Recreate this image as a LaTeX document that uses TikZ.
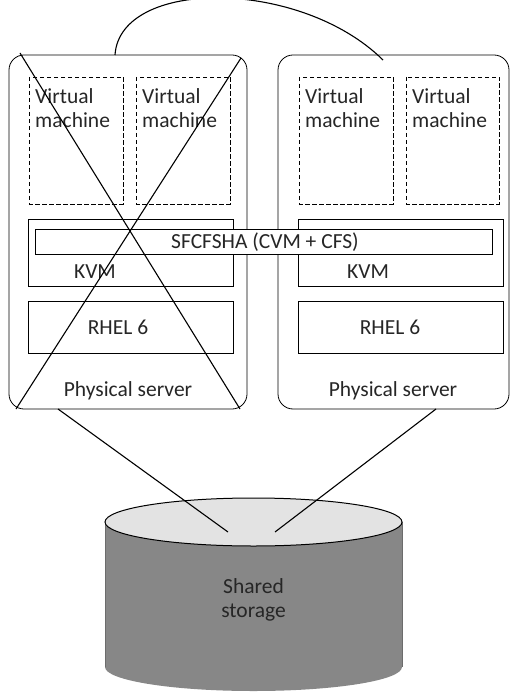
\documentclass[tikz,border=0pt]{standalone}
\usepackage{fontspec}
\setmainfont{Carlito}
\definecolor{txt}{HTML}{262626}
\definecolor{cylbody}{HTML}{878787}
\definecolor{cyltop}{HTML}{E3E3E3}
\begin{document}
\begin{tikzpicture}[x=1pt,y=-1pt,
  every node/.style={font=\fontsize{21.5}{24}\selectfont,text=txt,inner sep=0pt},
  server/.style={draw,rounded corners=15pt,line width=0.8pt},
  vmbox/.style={draw,dash pattern=on 4.5pt off 2.5pt,line width=0.6pt},
  layer/.style={draw,line width=0.7pt},
  wire/.style={draw,line width=1.1pt}]
\useasboundingbox (0,0) rectangle (511,692);
% servers
\draw[server] (9,55) rectangle (247,409);
\draw[server] (278,55) rectangle (509,409);
% VMs
\draw[vmbox] (29,77) rectangle (123,204);
\draw[vmbox] (136,77) rectangle (230,204);
\draw[vmbox] (299,77) rectangle (393,204);
\draw[vmbox] (406,77) rectangle (499,204);
\foreach \x/\n in {35/a,142/b,305/c,412/d}{
  \node[anchor=north west,align=left] (vm\n) at (\x,88) {Virtual\\machine};
}
% KVM boxes
\draw[layer,fill=white] (28,219) rectangle (233,286);
\draw[layer,fill=white] (298,219) rectangle (503,286);
\node (kvma) at (95,272) {KVM};
\node (kvmb) at (368,272) {KVM};
% SFCFSHA bar
\draw[layer,fill=white] (35,229) rectangle (492,254);
\node (sf) at (265,242) {SFCFSHA (CVM + CFS)};
% RHEL
\draw[layer] (28,301) rectangle (233,353);
\draw[layer] (298,301) rectangle (503,353);
\node (rhela) at (118,327) {RHEL 6};
\node (rhelb) at (390,327) {RHEL 6};
% physical server labels
\node (psa) at (128,391) {Physical server};
\node (psb) at (393,391) {Physical server};
% cross
\draw[wire] (20,53) -- (240,409);
\draw[wire] (241,58) -- (16,409);
% heartbeat curve
\coordinate (ca) at (115,55);
\coordinate (cb) at (383,60);
\draw[wire] (ca) .. controls (120,-22) and (300,-22) .. (cb);
% cylinder
\fill[cylbody] (105,522) -- (105,667) arc[start angle=180,end angle=360,x radius=148.5,y radius=-24] -- (402,522) -- cycle;
\draw[line width=0.5pt,cylbody!80!black] (105,522) -- (105,667);
\draw[line width=0.5pt,cylbody!80!black] (402,522) -- (402,667);
\draw[line width=1pt,fill=cyltop] (253.5,522) ellipse[x radius=148.5,y radius=24];
\node[align=center] (st) at (253.5,600) {Shared\\storage};
% links to storage
\coordinate (la) at (58,409);
\coordinate (lb) at (436,409);
\coordinate (sa) at (228,532);
\coordinate (sb) at (275,532);
\draw[wire] (la) -- (sa);
\draw[wire] (lb) -- (sb);
\end{tikzpicture}
\end{document}
